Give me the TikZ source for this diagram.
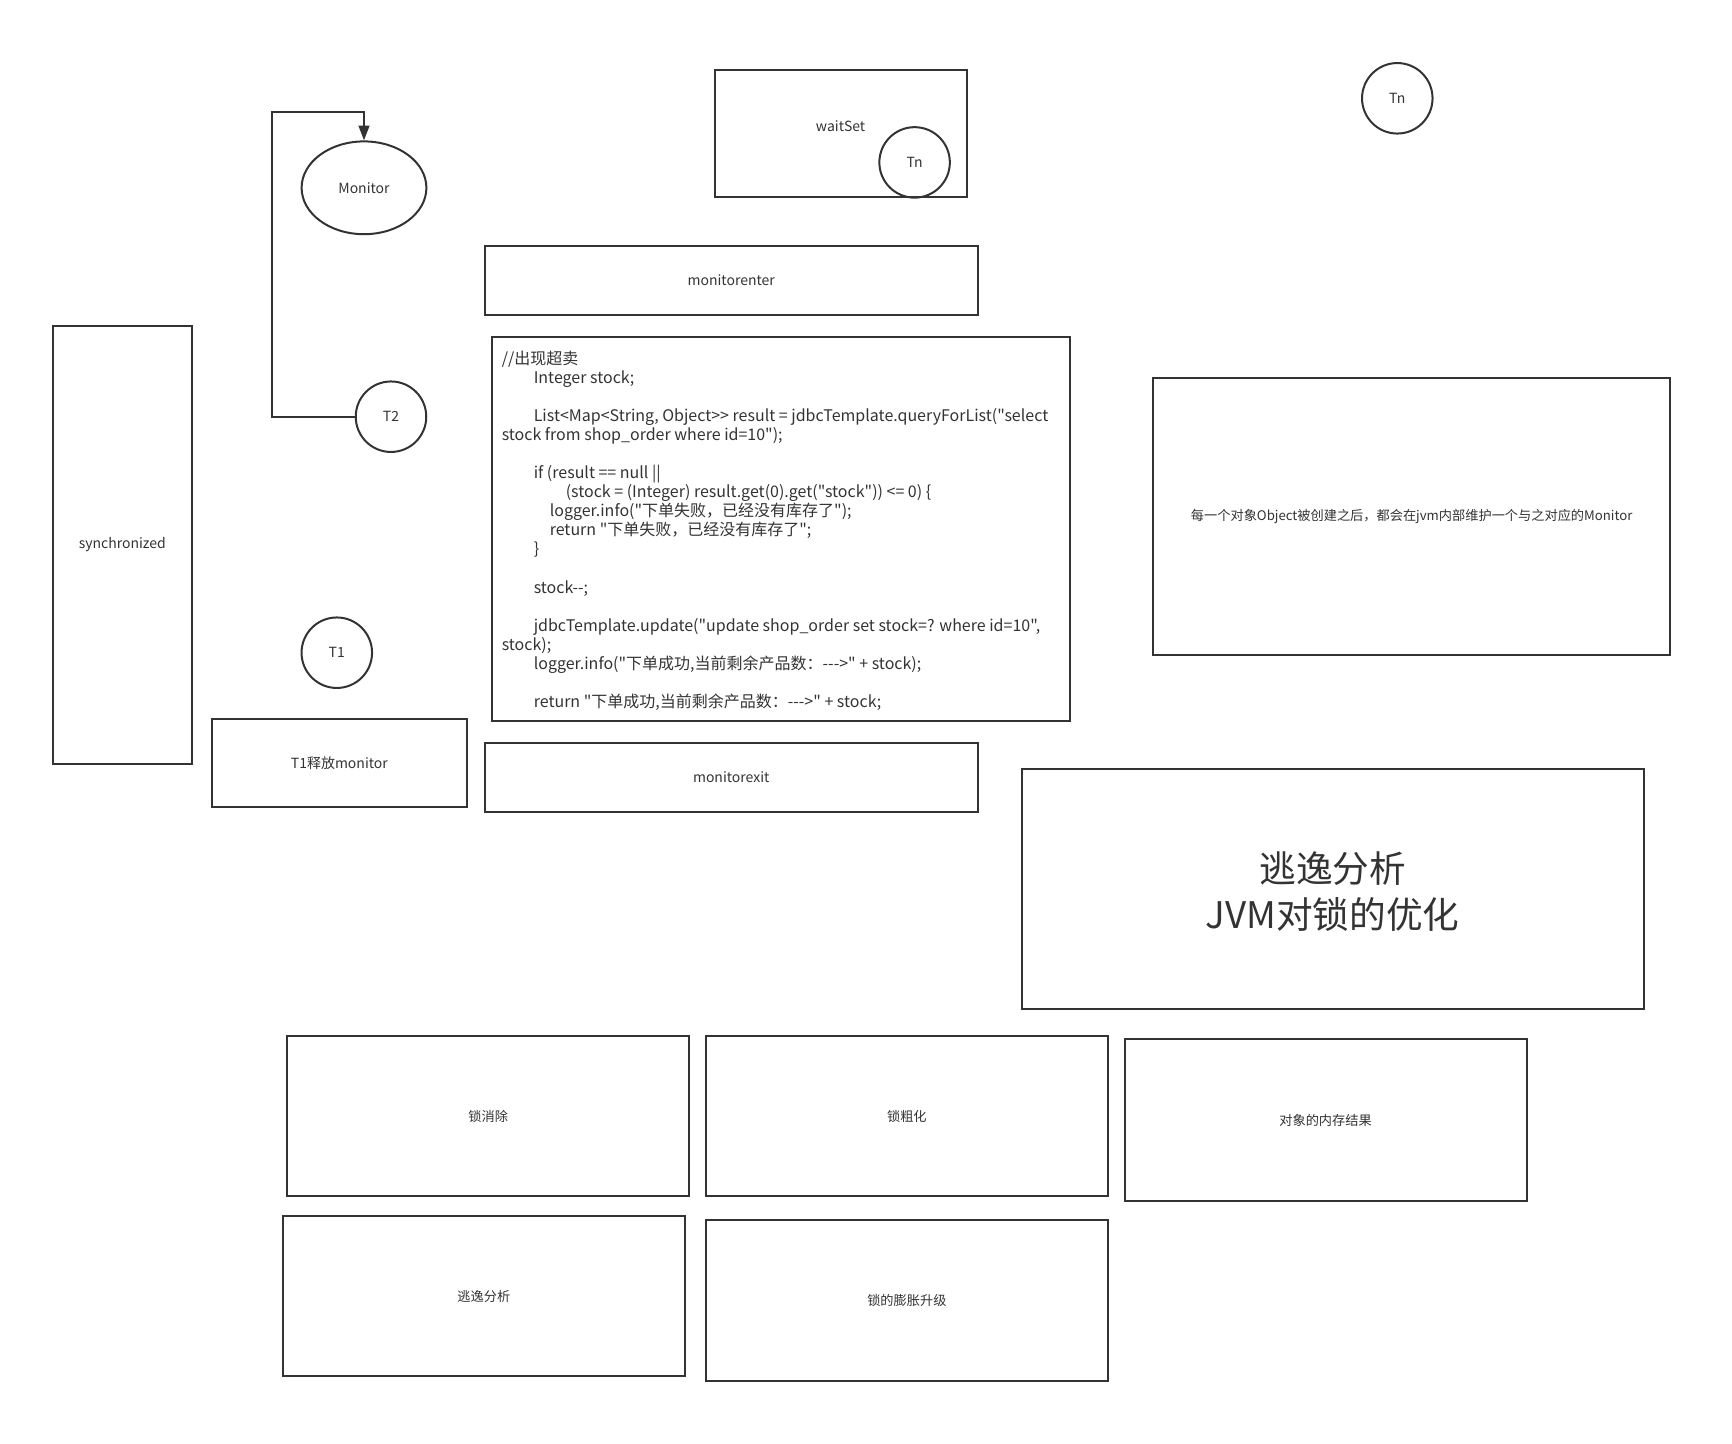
\documentclass[tikz,border=0pt]{standalone}
\usepackage{fontspec}
\setmainfont{Noto Sans CJK SC}[Ligatures=TeXOff]
\usetikzlibrary{arrows.meta,fit,shapes.geometric}
\definecolor{ink}{HTML}{333333}
\newcommand{\pxu}{0.75pt}
\tikzset{
  box/.style={draw=ink, line width=1.5pt, rectangle, inner sep=0pt},
  lbl/.style={text=ink, font=\fontsize{10.5}{13}\selectfont, inner sep=0pt},
  cjk/.style={text=ink, font=\fontsize{9.9}{12}\selectfont, inner sep=0pt},
  txt/.style={label={[lbl]center:#1}},
  cjktxt/.style={label={[cjk]center:#1}},
  circ/.style={draw=ink, line width=1.5pt, circle, minimum size=70.5*\pxu, inner sep=0pt,
    text=ink, font=\fontsize{10.5}{13}\selectfont},
  oval/.style={draw=ink, line width=1.5pt, ellipse, minimum width=124.8*\pxu,
    minimum height=92.8*\pxu, inner sep=0pt, text=ink, font=\fontsize{10.5}{13}\selectfont},
  codetext/.style={text=ink, font=\fontsize{12}{14.27}\selectfont, align=left, inner sep=0pt},
  titletext/.style={text=ink, font=\fontsize{27.5}{34}\selectfont, align=center},
  conn/.style={draw=ink, line width=1.5pt, -{Triangle[length=11pt,width=8pt]}},
}
\begin{document}
\begin{tikzpicture}[x=0.75pt,y=-0.75pt]
\useasboundingbox (0,0) rectangle (1732,1443);

% top-left monitor / threads
\node[oval] (mon) at (364,187.8) {Monitor};
\node[circ] (t2) at (391,416.7) {T2};
\node[circ] (t1) at (336.8,652.7) {T1};
\coordinate (turn) at (272,111.6);
\draw[conn] (t2.west) -| (turn) -| (mon.north);

% waitSet
\node[box, fit={(714.7,69.6)(966.5,196.6)}, label={[lbl, yshift=5.3pt]center:waitSet}] (ws) {};
\node[circ] (tnin) at (914.6,162.4) {Tn};
\node[circ] (tnout) at (1397.3,98.3) {Tn};

% monitorenter / exit
\node[box, fit={(484.9,246.3)(977.6,314.8)}, txt=monitorenter] (menter) {};
\node[box, fit={(484.9,743.4)(977.6,811.9)}, txt=monitorexit] (mexit) {};

% synchronized
\node[box, fit={(52.7,325.7)(192,763.7)}, txt=synchronized] (sync) {};
\node[box, fit={(211.7,718.7)(467,806.7)}, txt=T1释放monitor] (t1rel) {};

% code box
\node[box, fit={(491.5,336.9)(1070.4,721.3)}] (codebox) {};
\node[codetext, anchor=north west] (code) at (501.5,351) {%
//出现超卖\\
\hspace*{24pt}Integer stock;\\
\mbox{}\\
\hspace*{24pt}List<Map<String, Object>> result = jdbcTemplate.queryForList("select\\
stock from shop\_order where id=10");\\
\mbox{}\\
\hspace*{24pt}if (result == null ||\\
\hspace*{48pt}(stock = (Integer) result.get(0).get("stock")) <= 0) \{\\
\hspace*{36pt}logger.info("下单失败，已经没有库存了");\\
\hspace*{36pt}return "下单失败，已经没有库存了";\\
\hspace*{24pt}\}\\
\mbox{}\\
\hspace*{24pt}stock-\kern0pt-;\\
\mbox{}\\
\hspace*{24pt}jdbcTemplate.update("update shop\_order set stock=? where id=10",\\
stock);\\
\hspace*{24pt}logger.info("下单成功,当前剩余产品数：-\kern0pt-\kern0pt->" + stock);\\
\mbox{}\\
\hspace*{24pt}return "下单成功,当前剩余产品数：-\kern0pt-\kern0pt->" + stock;};

% right boxes
\node[box, fit={(1153.2,377.8)(1670.2,655.0)}, cjktxt={每一个对象Object被创建之后，都会在jvm内部维护一个与之对应的Monitor}] (objmon) {};
\node[box, fit={(1021.8,768.8)(1643.6,1008.5)}] (titlebox) {};
\node[titletext, yshift=-2.2pt] (title) at (titlebox.center) {逃逸分析\\JVM对锁的优化};

% bottom boxes
\node[box, fit={(287.2,1036.1)(689.3,1196.3)}, cjktxt=锁消除] (b1) {};
\node[box, fit={(705.8,1036.1)(1107.9,1196.3)}, cjktxt=锁粗化] (b2) {};
\node[box, fit={(1124.5,1039.4)(1526.6,1200.7)}, cjktxt=对象的内存结果] (b3) {};
\node[box, fit={(282.8,1216.2)(684.9,1376.3)}, cjktxt=逃逸分析] (b4) {};
\node[box, fit={(705.8,1219.5)(1107.9,1380.8)}, cjktxt=锁的膨胀升级] (b5) {};
\end{tikzpicture}
\end{document}
